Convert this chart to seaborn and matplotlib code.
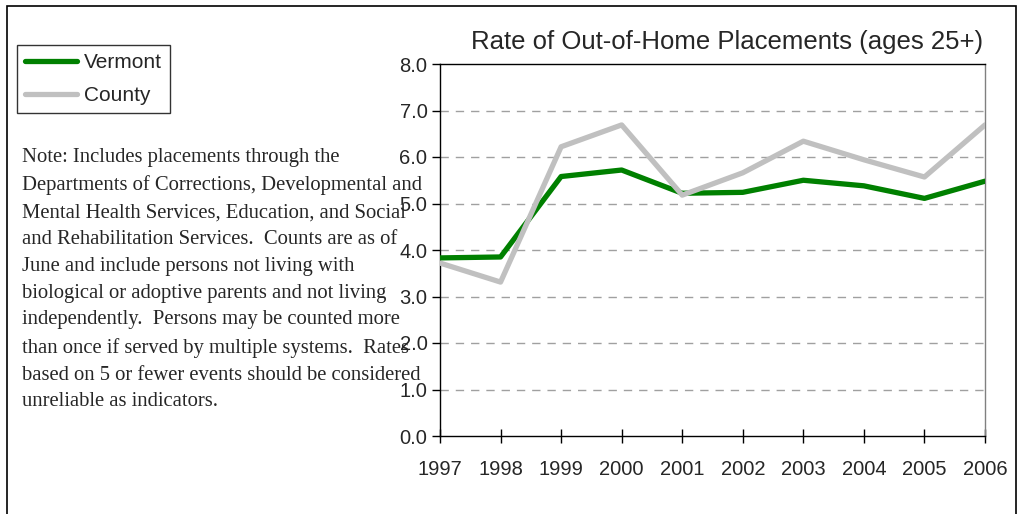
import matplotlib
matplotlib.use("Agg")
import matplotlib.pyplot as plt
from matplotlib.patches import Rectangle
import seaborn as sns
import pandas as pd

years = [1997, 1998, 1999, 2000, 2001, 2002, 2003, 2004, 2005, 2006]
vermont = [3.83, 3.85, 5.58, 5.72, 5.22, 5.24, 5.50, 5.38, 5.11, 5.48]
county = [3.72, 3.31, 6.22, 6.69, 5.18, 5.66, 6.34, 5.94, 5.57, 6.69]
series_names = ["Vermont", "County"]
y_ticks = [0.0, 1.0, 2.0, 3.0, 4.0, 5.0, 6.0, 7.0, 8.0]
title = "Rate of Out-of-Home Placements (ages 25+)"
note_lines = [
    "Note: Includes placements through the",
    "Departments of Corrections, Developmental and",
    "Mental Health Services, Education, and Social",
    "and Rehabilitation Services.  Counts are as of",
    "June and include persons not living with",
    "biological or adoptive parents and not living",
    "independently.  Persons may be counted more",
    "than once if served by multiple systems.  Rates",
    "based on 5 or fewer events should be considered",
    "unreliable as indicators.",
]

df = pd.DataFrame({
    "Year": years * 2,
    "Rate": vermont + county,
    "Area": [series_names[0]] * len(years) + [series_names[1]] * len(years),
})

sns.set_theme(style="white")
plt.rcParams["font.family"] = ["Liberation Sans", "DejaVu Sans"]

W, H = 1022, 514
fig = plt.figure(figsize=(W / 100, H / 100), dpi=100)
ax = fig.add_axes([440 / W, 1 - 436 / H, (985 - 440) / W, (436 - 64) / H])

sns.lineplot(data=df, x="Year", y="Rate", hue="Area",
             palette={"Vermont": "#008000", "County": "#C0C0C0"},
             linewidth=3.8, ax=ax, legend=False, zorder=3)

ax.set_xlim(years[0], years[-1])
ax.set_ylim(0, 8)
ax.set_xticks(years)
ax.set_xticklabels([str(y) for y in years])
ax.set_yticks(y_ticks)
ax.set_yticklabels([f"{v:.1f}" for v in y_ticks])
ax.set_xlabel("")
ax.set_ylabel("")

for v in y_ticks[1:-1]:
    ax.axhline(v, color="#A0A0A0", lw=1.0, ls=(0, (6, 5)), zorder=1)

for side in ["left", "bottom", "top"]:
    ax.spines[side].set_color("black")
    ax.spines[side].set_linewidth(1.0)
ax.spines["right"].set_color("#808080")
ax.spines["right"].set_linewidth(1.0)

ax.tick_params(axis="x", direction="inout", length=10, width=1, color="black",
               labelsize=14.5, pad=12, bottom=True)
ax.tick_params(axis="y", direction="out", length=6, width=1, color="black",
               labelsize=14.5, pad=3, left=True)

fig.text(727 / W, 1 - 42 / H, title, ha="center", va="center", fontsize=18.5)

handles = [plt.Line2D([], [], color="#008000", lw=3.8),
           plt.Line2D([], [], color="#C0C0C0", lw=3.8)]
leg = fig.legend(handles, series_names, loc="upper left",
                 bbox_to_anchor=(17 / W, 1 - 45 / H), fontsize=15,
                 frameon=True, fancybox=False, edgecolor="black",
                 handlelength=2.5, handletextpad=0.35, labelspacing=0.7,
                 borderpad=0.38, borderaxespad=0)
leg.get_frame().set_linewidth(1.0)

fig.text(22 / W, 1 - 148 / H, "\n".join(note_lines), ha="left", va="top",
         fontsize=14.9, family=["Liberation Serif", "DejaVu Serif"],
         linespacing=1.56)

fig.patches.append(Rectangle((7 / W, -0.1), (1016 - 7) / W, 1.1 - 6 / H,
                             transform=fig.transFigure, fill=False,
                             edgecolor="black", lw=1.2))

fig.savefig("out.png", dpi=100)
